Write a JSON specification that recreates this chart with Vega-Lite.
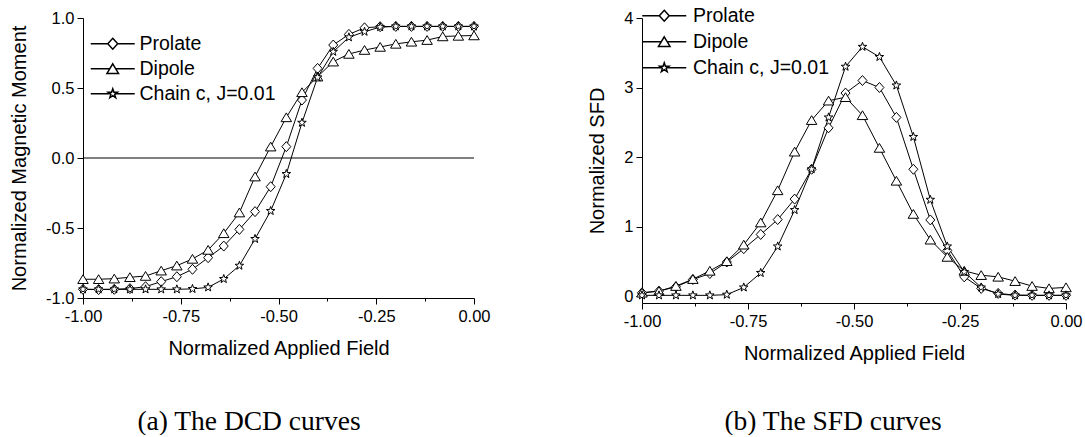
{
  "$schema": "https://vega.github.io/schema/vega-lite/v6.json",
  "background": "white",
  "padding": {"left": 9, "top": 6, "right": 0, "bottom": 0},
  "bounds": "flush",
  "spacing": 168,
  "config": {
    "view": {"stroke": null},
    "font": "Liberation Sans",
    "axis": {
      "grid": false,
      "domainColor": "black",
      "domainWidth": 1,
      "tickColor": "black",
      "tickWidth": 1,
      "labelColor": "black",
      "labelFont": "Liberation Sans",
      "labelFontSize": 16.5,
      "titleColor": "black",
      "titleFont": "Liberation Sans",
      "titleFontSize": 20,
      "titleFontWeight": "normal",
      "labelOverlap": false,
      "labelFlush": false
    },
    "axisX": {"labelPadding": 4, "titlePadding": 14},
    "axisY": {"labelPadding": 3, "titlePadding": 16},
    "title": {"font": "Liberation Serif", "fontSize": 27.5, "fontWeight": "normal", "color": "black"}
  },
  "datasets": {
    "dcd": [
      {"s": "Prolate", "h": -1.00, "v": -0.938}, {"s": "Prolate", "h": -0.96, "v": -0.940}, {"s": "Prolate", "h": -0.92, "v": -0.938},
      {"s": "Prolate", "h": -0.88, "v": -0.933}, {"s": "Prolate", "h": -0.84, "v": -0.919}, {"s": "Prolate", "h": -0.80, "v": -0.883},
      {"s": "Prolate", "h": -0.76, "v": -0.848}, {"s": "Prolate", "h": -0.72, "v": -0.795}, {"s": "Prolate", "h": -0.68, "v": -0.712},
      {"s": "Prolate", "h": -0.64, "v": -0.629}, {"s": "Prolate", "h": -0.60, "v": -0.510}, {"s": "Prolate", "h": -0.56, "v": -0.383},
      {"s": "Prolate", "h": -0.52, "v": -0.205}, {"s": "Prolate", "h": -0.48, "v": 0.081}, {"s": "Prolate", "h": -0.44, "v": 0.414},
      {"s": "Prolate", "h": -0.40, "v": 0.640}, {"s": "Prolate", "h": -0.36, "v": 0.807}, {"s": "Prolate", "h": -0.32, "v": 0.883},
      {"s": "Prolate", "h": -0.28, "v": 0.930}, {"s": "Prolate", "h": -0.24, "v": 0.938}, {"s": "Prolate", "h": -0.20, "v": 0.940},
      {"s": "Prolate", "h": -0.16, "v": 0.940}, {"s": "Prolate", "h": -0.12, "v": 0.940}, {"s": "Prolate", "h": -0.08, "v": 0.940},
      {"s": "Prolate", "h": -0.04, "v": 0.940}, {"s": "Prolate", "h": 0.00, "v": 0.940},
      {"s": "Dipole", "h": -1.00, "v": -0.866}, {"s": "Dipole", "h": -0.96, "v": -0.866}, {"s": "Dipole", "h": -0.92, "v": -0.862},
      {"s": "Dipole", "h": -0.88, "v": -0.852}, {"s": "Dipole", "h": -0.84, "v": -0.843}, {"s": "Dipole", "h": -0.80, "v": -0.805},
      {"s": "Dipole", "h": -0.76, "v": -0.769}, {"s": "Dipole", "h": -0.72, "v": -0.721}, {"s": "Dipole", "h": -0.68, "v": -0.657},
      {"s": "Dipole", "h": -0.64, "v": -0.538}, {"s": "Dipole", "h": -0.60, "v": -0.390}, {"s": "Dipole", "h": -0.56, "v": -0.133},
      {"s": "Dipole", "h": -0.52, "v": 0.081}, {"s": "Dipole", "h": -0.48, "v": 0.290}, {"s": "Dipole", "h": -0.44, "v": 0.469},
      {"s": "Dipole", "h": -0.40, "v": 0.581}, {"s": "Dipole", "h": -0.36, "v": 0.688}, {"s": "Dipole", "h": -0.32, "v": 0.743},
      {"s": "Dipole", "h": -0.28, "v": 0.771}, {"s": "Dipole", "h": -0.24, "v": 0.793}, {"s": "Dipole", "h": -0.20, "v": 0.815},
      {"s": "Dipole", "h": -0.16, "v": 0.830}, {"s": "Dipole", "h": -0.12, "v": 0.842}, {"s": "Dipole", "h": -0.08, "v": 0.868},
      {"s": "Dipole", "h": -0.04, "v": 0.872}, {"s": "Dipole", "h": 0.00, "v": 0.875},
      {"s": "Chain c, J=0.01", "h": -1.00, "v": -0.938}, {"s": "Chain c, J=0.01", "h": -0.96, "v": -0.938}, {"s": "Chain c, J=0.01", "h": -0.92, "v": -0.938},
      {"s": "Chain c, J=0.01", "h": -0.88, "v": -0.938}, {"s": "Chain c, J=0.01", "h": -0.84, "v": -0.938}, {"s": "Chain c, J=0.01", "h": -0.80, "v": -0.938},
      {"s": "Chain c, J=0.01", "h": -0.76, "v": -0.938}, {"s": "Chain c, J=0.01", "h": -0.72, "v": -0.935}, {"s": "Chain c, J=0.01", "h": -0.68, "v": -0.924},
      {"s": "Chain c, J=0.01", "h": -0.64, "v": -0.864}, {"s": "Chain c, J=0.01", "h": -0.60, "v": -0.769}, {"s": "Chain c, J=0.01", "h": -0.56, "v": -0.578},
      {"s": "Chain c, J=0.01", "h": -0.52, "v": -0.378}, {"s": "Chain c, J=0.01", "h": -0.48, "v": -0.114}, {"s": "Chain c, J=0.01", "h": -0.44, "v": 0.252},
      {"s": "Chain c, J=0.01", "h": -0.40, "v": 0.576}, {"s": "Chain c, J=0.01", "h": -0.36, "v": 0.759}, {"s": "Chain c, J=0.01", "h": -0.32, "v": 0.862},
      {"s": "Chain c, J=0.01", "h": -0.28, "v": 0.902}, {"s": "Chain c, J=0.01", "h": -0.24, "v": 0.935}, {"s": "Chain c, J=0.01", "h": -0.20, "v": 0.940},
      {"s": "Chain c, J=0.01", "h": -0.16, "v": 0.940}, {"s": "Chain c, J=0.01", "h": -0.12, "v": 0.940}, {"s": "Chain c, J=0.01", "h": -0.08, "v": 0.940},
      {"s": "Chain c, J=0.01", "h": -0.04, "v": 0.940}, {"s": "Chain c, J=0.01", "h": 0.00, "v": 0.940}
    ],
    "sfd": [
      {"s": "Prolate", "h": -1.00, "v": 0.047}, {"s": "Prolate", "h": -0.96, "v": 0.071}, {"s": "Prolate", "h": -0.92, "v": 0.133},
      {"s": "Prolate", "h": -0.88, "v": 0.238}, {"s": "Prolate", "h": -0.84, "v": 0.324}, {"s": "Prolate", "h": -0.80, "v": 0.490},
      {"s": "Prolate", "h": -0.76, "v": 0.681}, {"s": "Prolate", "h": -0.72, "v": 0.886}, {"s": "Prolate", "h": -0.68, "v": 1.100},
      {"s": "Prolate", "h": -0.64, "v": 1.395}, {"s": "Prolate", "h": -0.60, "v": 1.824}, {"s": "Prolate", "h": -0.56, "v": 2.420},
      {"s": "Prolate", "h": -0.52, "v": 2.920}, {"s": "Prolate", "h": -0.48, "v": 3.100}, {"s": "Prolate", "h": -0.44, "v": 3.000},
      {"s": "Prolate", "h": -0.40, "v": 2.570}, {"s": "Prolate", "h": -0.36, "v": 1.824}, {"s": "Prolate", "h": -0.32, "v": 1.095},
      {"s": "Prolate", "h": -0.28, "v": 0.657}, {"s": "Prolate", "h": -0.24, "v": 0.276}, {"s": "Prolate", "h": -0.20, "v": 0.110},
      {"s": "Prolate", "h": -0.16, "v": 0.038}, {"s": "Prolate", "h": -0.12, "v": 0.014}, {"s": "Prolate", "h": -0.08, "v": 0.010},
      {"s": "Prolate", "h": -0.04, "v": 0.010}, {"s": "Prolate", "h": 0.00, "v": 0.010},
      {"s": "Dipole", "h": -1.00, "v": 0.047}, {"s": "Dipole", "h": -0.96, "v": 0.071}, {"s": "Dipole", "h": -0.92, "v": 0.143},
      {"s": "Dipole", "h": -0.88, "v": 0.243}, {"s": "Dipole", "h": -0.84, "v": 0.362}, {"s": "Dipole", "h": -0.80, "v": 0.500},
      {"s": "Dipole", "h": -0.76, "v": 0.738}, {"s": "Dipole", "h": -0.72, "v": 1.057}, {"s": "Dipole", "h": -0.68, "v": 1.520},
      {"s": "Dipole", "h": -0.64, "v": 2.076}, {"s": "Dipole", "h": -0.60, "v": 2.530}, {"s": "Dipole", "h": -0.56, "v": 2.810},
      {"s": "Dipole", "h": -0.52, "v": 2.860}, {"s": "Dipole", "h": -0.48, "v": 2.600}, {"s": "Dipole", "h": -0.44, "v": 2.130},
      {"s": "Dipole", "h": -0.40, "v": 1.657}, {"s": "Dipole", "h": -0.36, "v": 1.180}, {"s": "Dipole", "h": -0.32, "v": 0.810},
      {"s": "Dipole", "h": -0.28, "v": 0.562}, {"s": "Dipole", "h": -0.24, "v": 0.362}, {"s": "Dipole", "h": -0.20, "v": 0.300},
      {"s": "Dipole", "h": -0.16, "v": 0.276}, {"s": "Dipole", "h": -0.12, "v": 0.214}, {"s": "Dipole", "h": -0.08, "v": 0.143},
      {"s": "Dipole", "h": -0.04, "v": 0.110}, {"s": "Dipole", "h": 0.00, "v": 0.124},
      {"s": "Chain c, J=0.01", "h": -1.00, "v": 0.010}, {"s": "Chain c, J=0.01", "h": -0.96, "v": 0.010}, {"s": "Chain c, J=0.01", "h": -0.92, "v": 0.010},
      {"s": "Chain c, J=0.01", "h": -0.88, "v": 0.010}, {"s": "Chain c, J=0.01", "h": -0.84, "v": 0.010}, {"s": "Chain c, J=0.01", "h": -0.80, "v": 0.020},
      {"s": "Chain c, J=0.01", "h": -0.76, "v": 0.124}, {"s": "Chain c, J=0.01", "h": -0.72, "v": 0.333}, {"s": "Chain c, J=0.01", "h": -0.68, "v": 0.714},
      {"s": "Chain c, J=0.01", "h": -0.64, "v": 1.238}, {"s": "Chain c, J=0.01", "h": -0.60, "v": 1.824}, {"s": "Chain c, J=0.01", "h": -0.56, "v": 2.570},
      {"s": "Chain c, J=0.01", "h": -0.52, "v": 3.300}, {"s": "Chain c, J=0.01", "h": -0.48, "v": 3.586}, {"s": "Chain c, J=0.01", "h": -0.44, "v": 3.440},
      {"s": "Chain c, J=0.01", "h": -0.40, "v": 3.030}, {"s": "Chain c, J=0.01", "h": -0.36, "v": 2.290}, {"s": "Chain c, J=0.01", "h": -0.32, "v": 1.386},
      {"s": "Chain c, J=0.01", "h": -0.28, "v": 0.714}, {"s": "Chain c, J=0.01", "h": -0.24, "v": 0.348}, {"s": "Chain c, J=0.01", "h": -0.20, "v": 0.124},
      {"s": "Chain c, J=0.01", "h": -0.16, "v": 0.029}, {"s": "Chain c, J=0.01", "h": -0.12, "v": 0.010}, {"s": "Chain c, J=0.01", "h": -0.08, "v": 0.010},
      {"s": "Chain c, J=0.01", "h": -0.04, "v": 0.010}, {"s": "Chain c, J=0.01", "h": 0.00, "v": 0.010}
    ]
  },
  "resolve": {"scale": {"shape": "independent", "x": "independent", "y": "independent"}, "legend": {"shape": "independent"}},
  "hconcat": [
    {
      "width": 391,
      "height": 280,
      "title": {"text": "(a) The DCD curves", "orient": "bottom", "anchor": "middle", "frame": "group", "offset": 49, "dx": -29.5},
      "resolve": {"scale": {"shape": "independent"}, "legend": {"shape": "independent"}},
      "layer": [
        {
          "data": {"values": [{}]},
          "mark": {"type": "rule", "color": "black", "strokeWidth": 1},
          "encoding": {"y": {"datum": 0, "type": "quantitative"}}
        },
        {
          "data": {"name": "dcd"},
          "mark": {"type": "line", "color": "black", "strokeWidth": 1},
          "encoding": {
            "x": {"field": "h", "type": "quantitative", "scale": {"domain": [-1, 0], "nice": false, "zero": false},
              "axis": {"title": "Normalized Applied Field", "values": [-1, -0.875, -0.75, -0.625, -0.5, -0.375, -0.25, -0.125, 0],
                "labelExpr": "abs(datum.value*4 - round(datum.value*4)) < 0.000001 ? replace(format(datum.value, '.2f'), '\u2212', '-') : ''",
                "tickSize": {"condition": {"test": "abs(datum.value*4 - round(datum.value*4)) < 0.000001", "value": 6}, "value": 3}}},
            "y": {"field": "v", "type": "quantitative", "scale": {"domain": [-1, 1], "nice": false, "zero": false},
              "axis": {"title": "Normalized Magnetic Moment", "values": [-1, -0.75, -0.5, -0.25, 0, 0.25, 0.5, 0.75, 1],
                "labelExpr": "abs(datum.value*2 - round(datum.value*2)) < 0.000001 ? replace(format(datum.value, '.1f'), '\u2212', '-') : ''",
                "tickSize": {"condition": {"test": "abs(datum.value*2 - round(datum.value*2)) < 0.000001", "value": 6}, "value": 3}}},
            "detail": {"field": "s"}
          }
        },
        {
          "data": {"name": "dcd"},
          "mark": {"type": "point", "filled": true, "fill": "white", "stroke": "black", "strokeWidth": 1, "size": 100, "opacity": 1},
          "encoding": {
            "x": {"field": "h", "type": "quantitative"},
            "y": {"field": "v", "type": "quantitative"},
            "shape": {"field": "s", "type": "nominal",
              "scale": {"domain": ["Prolate", "Dipole", "Chain c, J=0.01"],
                "range": ["M0,-1L0.9,0L0,1L-0.9,0Z", "M0,-0.9L1.05,0.85L-1.05,0.85Z", "M0,-0.9L0.212,-0.292L0.856,-0.278L0.342,0.112L0.529,0.728L0,0.36L-0.529,0.728L-0.342,0.112L-0.856,-0.278L-0.212,-0.292Z"]},
              "legend": null}
          }
        },
        {
          "data": {"name": "dcd"},
          "transform": [{"filter": "false"}],
          "mark": {"type": "point", "filled": true, "fill": "white", "stroke": "black", "strokeWidth": 1, "opacity": 1},
          "encoding": {
            "x": {"field": "h", "type": "quantitative"},
            "y": {"field": "v", "type": "quantitative"},
            "shape": {"field": "s", "type": "nominal",
              "scale": {"domain": ["Prolate", "Dipole", "Chain c, J=0.01"],
                "range": ["M-4,0H-0.9M0.9,0H4M0,-1L0.9,0L0,1L-0.9,0Z", "M-4,0H-0.54M0.54,0H4M0,-0.9L1.05,0.85L-1.05,0.85Z", "M-4,0H-0.49M0.49,0H4M0,-0.9L0.212,-0.292L0.856,-0.278L0.342,0.112L0.529,0.728L0,0.36L-0.529,0.728L-0.342,0.112L-0.856,-0.278L-0.212,-0.292Z"]},
              "legend": {"title": null, "orient": "none", "legendX": 20, "legendY": 16,
                "labelFont": "Liberation Sans", "labelFontSize": 19.5, "labelColor": "black", "labelOffset": 17, "rowPadding": 4,
                "symbolSize": 121}}
          }
        }
      ]
    },
    {
      "width": 424,
      "height": 285,
      "title": {"text": "(b) The SFD curves", "orient": "bottom", "anchor": "middle", "frame": "group", "offset": 44, "dx": -21},
      "resolve": {"scale": {"shape": "independent"}, "legend": {"shape": "independent"}},
      "layer": [
        {
          "data": {"name": "sfd"},
          "mark": {"type": "line", "color": "black", "strokeWidth": 1},
          "encoding": {
            "x": {"field": "h", "type": "quantitative", "scale": {"domain": [-1, 0], "nice": false, "zero": false},
              "axis": {"title": "Normalized Applied Field", "values": [-1, -0.875, -0.75, -0.625, -0.5, -0.375, -0.25, -0.125, 0],
                "labelExpr": "abs(datum.value*4 - round(datum.value*4)) < 0.000001 ? replace(format(datum.value, '.2f'), '\u2212', '-') : ''",
                "tickSize": {"condition": {"test": "abs(datum.value*4 - round(datum.value*4)) < 0.000001", "value": 6}, "value": 3}}},
            "y": {"field": "v", "type": "quantitative", "scale": {"domain": [-0.1, 4], "nice": false, "zero": false},
              "axis": {"title": "Normalized SFD", "values": [0, 0.5, 1, 1.5, 2, 2.5, 3, 3.5, 4],
                "labelExpr": "abs(datum.value - round(datum.value)) < 0.000001 ? format(datum.value, 'd') : ''",
                "tickSize": {"condition": {"test": "abs(datum.value - round(datum.value)) < 0.000001", "value": 6}, "value": 3}}},
            "detail": {"field": "s"}
          }
        },
        {
          "data": {"name": "sfd"},
          "mark": {"type": "point", "filled": true, "fill": "white", "stroke": "black", "strokeWidth": 1, "size": 100, "opacity": 1},
          "encoding": {
            "x": {"field": "h", "type": "quantitative"},
            "y": {"field": "v", "type": "quantitative"},
            "shape": {"field": "s", "type": "nominal",
              "scale": {"domain": ["Prolate", "Dipole", "Chain c, J=0.01"],
                "range": ["M0,-1L0.9,0L0,1L-0.9,0Z", "M0,-0.9L1.05,0.85L-1.05,0.85Z", "M0,-0.9L0.212,-0.292L0.856,-0.278L0.342,0.112L0.529,0.728L0,0.36L-0.529,0.728L-0.342,0.112L-0.856,-0.278L-0.212,-0.292Z"]},
              "legend": null}
          }
        },
        {
          "data": {"name": "sfd"},
          "transform": [{"filter": "false"}],
          "mark": {"type": "point", "filled": true, "fill": "white", "stroke": "black", "strokeWidth": 1, "opacity": 1},
          "encoding": {
            "x": {"field": "h", "type": "quantitative"},
            "y": {"field": "v", "type": "quantitative"},
            "shape": {"field": "s", "type": "nominal",
              "scale": {"domain": ["Prolate", "Dipole", "Chain c, J=0.01"],
                "range": ["M-4,0H-0.9M0.9,0H4M0,-1L0.9,0L0,1L-0.9,0Z", "M-4,0H-0.54M0.54,0H4M0,-0.9L1.05,0.85L-1.05,0.85Z", "M-4,0H-0.49M0.49,0H4M0,-0.9L0.212,-0.292L0.856,-0.278L0.342,0.112L0.529,0.728L0,0.36L-0.529,0.728L-0.342,0.112L-0.856,-0.278L-0.212,-0.292Z"]},
              "legend": {"title": null, "orient": "none", "legendX": 12.5, "legendY": -12, "padding": 0,
                "labelFont": "Liberation Sans", "labelFontSize": 19.5, "labelColor": "black", "labelOffset": 19, "rowPadding": 5,
                "symbolSize": 121}}
          }
        }
      ]
    }
  ]
}
